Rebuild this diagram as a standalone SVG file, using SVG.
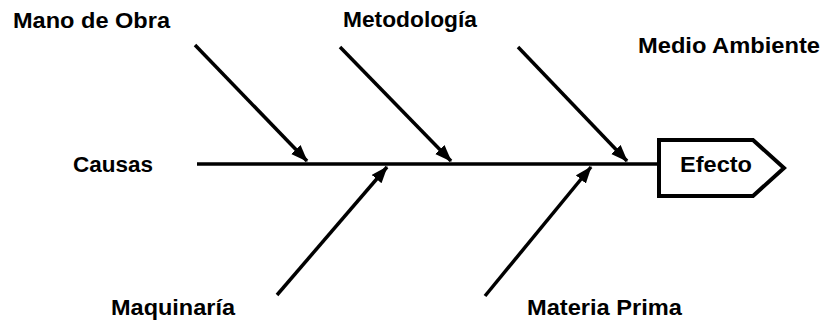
<svg xmlns="http://www.w3.org/2000/svg" width="823" height="323" viewBox="0 0 823 323">
<style>
.lbl{font-family:"Liberation Sans",Arial,sans-serif;font-weight:bold;font-size:22px;fill:#000}
.bone{stroke:#000;stroke-width:3.5;fill:none}
.arr{stroke:#000;stroke-width:3.5;fill:none;marker-end:url(#ah)}
</style>
<defs>
<marker id="ah" markerUnits="userSpaceOnUse" markerWidth="18" markerHeight="14" refX="16" refY="6.5" orient="auto">
<path d="M0,0 L17,6.5 L0,13 Z" fill="#000"/>
</marker>
</defs>
<rect width="823" height="323" fill="#fff"/>
<g id="connectors">
<line class="bone" x1="197" y1="164" x2="659" y2="164"/>
<line class="arr" x1="195" y1="45" x2="307" y2="161"/>
<line class="arr" x1="340" y1="47" x2="451" y2="161"/>
<line class="arr" x1="518" y1="47" x2="627" y2="161"/>
<line class="arr" x1="277" y1="295" x2="387" y2="167"/>
<line class="arr" x1="485" y1="296" x2="591" y2="167"/>
</g>
<g id="efecto">
<polygon points="659,140 753,140 784,168 753,196 659,196" fill="#fff" stroke="#000" stroke-width="4"/>
<text class="lbl" x="680" y="172" textLength="72" lengthAdjust="spacingAndGlyphs">Efecto</text>
</g>
<g id="causas"><text class="lbl" x="73" y="172" textLength="80" lengthAdjust="spacingAndGlyphs">Causas</text></g>
<g id="mano-de-obra"><text class="lbl" x="13" y="28" textLength="157" lengthAdjust="spacingAndGlyphs">Mano de Obra</text></g>
<g id="metodologia"><text class="lbl" x="343" y="27" textLength="134" lengthAdjust="spacingAndGlyphs">Metodología</text></g>
<g id="medio-ambiente"><text class="lbl" x="638" y="53" textLength="182" lengthAdjust="spacingAndGlyphs">Medio Ambiente</text></g>
<g id="maquinaria"><text class="lbl" x="111" y="315" textLength="124" lengthAdjust="spacingAndGlyphs">Maquinaría</text></g>
<g id="materia-prima"><text class="lbl" x="527" y="315" textLength="155" lengthAdjust="spacingAndGlyphs">Materia Prima</text></g>
</svg>
